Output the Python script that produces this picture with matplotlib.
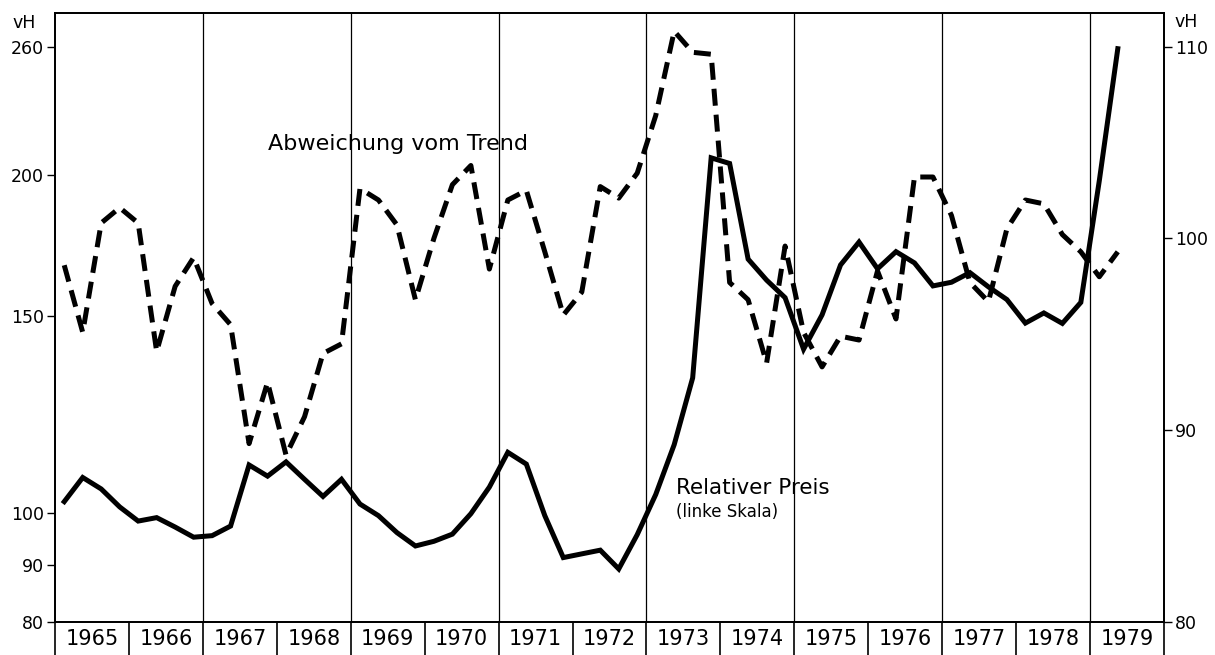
import numpy as np
import matplotlib.pyplot as plt
from matplotlib.ticker import FixedLocator, NullLocator, FixedFormatter

plt.rcParams['font.family'] = ['DejaVu Sans']

# =========================
# DATEN (Quartalswerte 1965 I bis 1979 II)
# =========================

start_year = 1965
years = list(range(1965, 1980))

# Relativer Preis, vH (linke Skala, logarithmisch)
relativer_preis = [
    102.4, 107.6, 105.1, 101.3,   # 1965
    98.4, 99.1, 97.2, 95.2,       # 1966
    95.5, 97.4, 110.4, 107.9,     # 1967
    111.1, 107.2, 103.5, 107.2,   # 1968
    101.9, 99.5, 96.1, 93.5,      # 1969
    94.4, 95.8, 99.9, 105.5,      # 1970
    113.3, 110.6, 99.5, 91.3,     # 1971
    92.0, 92.7, 89.2, 95.7,       # 1972
    103.9, 115.1, 132.0, 207.3,   # 1973
    204.9, 168.4, 161.3, 155.6,   # 1974
    140.0, 150.2, 166.4, 174.4,   # 1975
    165.1, 171.0, 167.1, 159.4,   # 1976
    160.6, 163.8, 159.1, 155.0,   # 1977
    147.7, 150.8, 147.6, 154.1,   # 1978
    197.8, 259.3,                 # 1979
]

# Abweichung vom Trend, vH (rechte Skala)
abweichung = [
    98.6, 95.1, 100.8, 101.6,
    100.8, 94.1, 97.5, 99.0,
    96.6, 95.5, 89.3, 92.5,
    88.7, 90.7, 94.0, 94.5,
    102.6, 102.0, 100.7, 96.8,
    100.0, 102.8, 103.8, 98.4,
    102.0, 102.5, 99.3, 96.0,
    97.2, 102.7, 102.1, 103.4,
    106.4, 110.8, 109.7, 109.6,
    97.7, 96.8, 93.5, 99.6,
    95.1, 93.3, 94.9, 94.7,
    98.3, 95.8, 103.2, 103.2,
    101.2, 97.7, 96.7, 100.5,
    102.0, 101.8, 100.2, 99.3,
    98.0, 99.3,
]

left_ticks = [80, 90, 100, 150, 200, 260]
right_ticks = [80, 90, 100, 110]

# Zeitachse: Quartalsmitten
n = len(relativer_preis)
t = start_year + (np.arange(n) + 0.5) / 4

# =========================
# PLOT
# =========================

fig = plt.figure(figsize=(12.15, 6.55), dpi=100)
ax = fig.add_axes([55/1215, 1 - 622/655, (1164 - 55)/1215, (622 - 13)/655])
ax2 = ax.twinx()

# linke Skala (log)
ax.set_yscale('log')
ax.set_ylim(80, 279)
ax.set_xlim(1965, 1980)
ax.yaxis.set_major_locator(FixedLocator(left_ticks))
ax.yaxis.set_major_formatter(FixedFormatter([str(v) for v in left_ticks]))
ax.yaxis.set_minor_locator(NullLocator())
ax.tick_params(axis='y', which='major', direction='out', length=6, width=1,
               labelsize=12.5, pad=2)

# rechte Skala (linear)
ax2.set_ylim(80, 111.75)
ax2.set_yticks(right_ticks)
ax2.set_yticklabels([str(v) for v in right_ticks])
ax2.tick_params(axis='y', direction='out', length=6, width=1,
                labelsize=12.5, pad=2)

# x-Achse: Trennstriche zwischen den Jahren, Jahreszahlen dazwischen
ax.set_xticks(range(1965, 1981))
ax.set_xticklabels([])
ax.set_xticks([y + 0.5 for y in years], minor=True)
ax.set_xticklabels([str(y) for y in years], minor=True)
ax.tick_params(axis='x', which='major', direction='out', length=24, width=1.2)
ax.tick_params(axis='x', which='minor', length=0, labelsize=15, pad=5)

for sp in list(ax.spines.values()) + list(ax2.spines.values()):
    sp.set_linewidth(1.3)

# senkrechte Linien alle zwei Jahre
for y in range(1967, 1980, 2):
    ax.axvline(y, color='black', lw=0.9, zorder=0)

ax.plot(t, relativer_preis, color='black', lw=3.6,
        solid_joinstyle='miter', zorder=3)
ax2.plot(t, abweichung, color='black', lw=3.6,
         linestyle=(0, (3.4, 1.8)), dash_capstyle='butt', zorder=3)

ax.text(0.192, 0.775, "Abweichung vom Trend", transform=ax.transAxes,
        fontsize=16, va='baseline', ha='left')
ax.text(0.560, 0.210, "Relativer Preis", transform=ax.transAxes,
        fontsize=15.5, va='baseline', ha='left')
ax.text(0.560, 0.172, "(linke Skala)", transform=ax.transAxes,
        fontsize=12, va='baseline', ha='left')

ax.text(-0.038, 0.975, "vH", transform=ax.transAxes,
        fontsize=12.5, va='baseline', ha='left')
ax.text(1.0099, 0.977, "vH", transform=ax.transAxes,
        fontsize=12.5, va='baseline', ha='left')

fig.savefig("out.png", dpi=100)
